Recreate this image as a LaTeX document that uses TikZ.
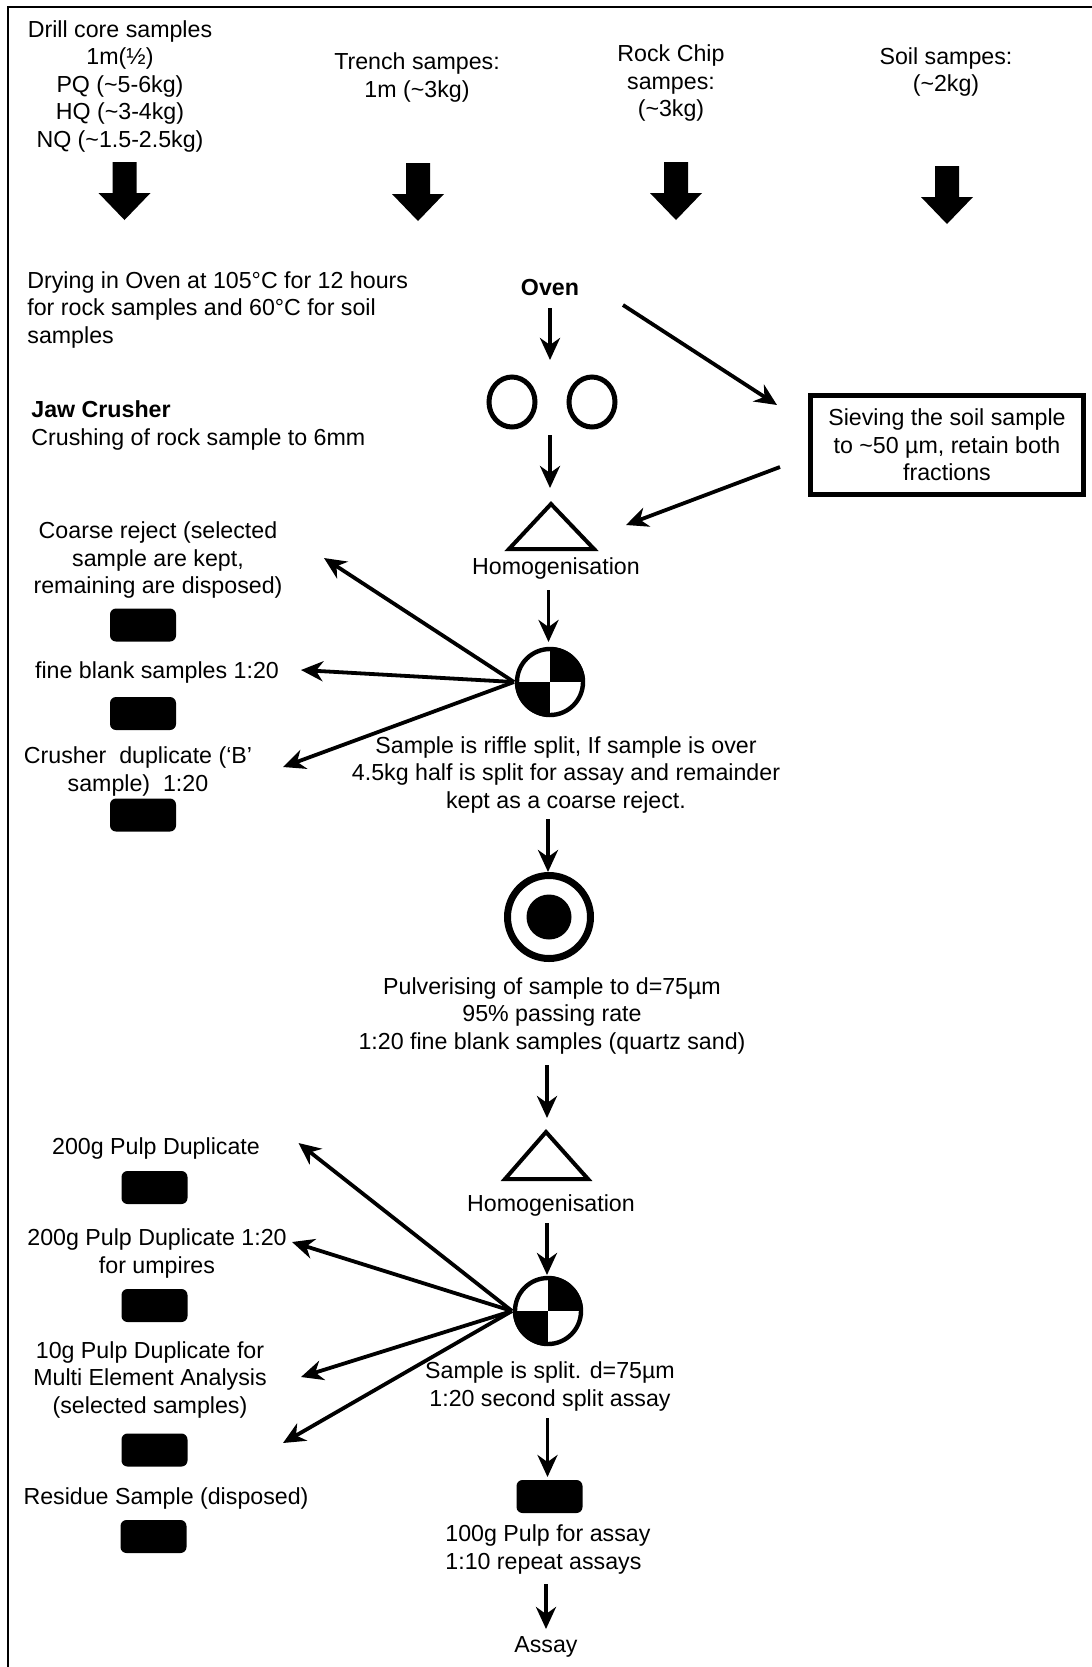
\documentclass[tikz,border=0pt]{standalone}
\usepackage{fontspec}
\setmainfont{Liberation Sans}
\usetikzlibrary{arrows.meta,shapes.geometric}
\begin{document}
\begin{tikzpicture}[x=0.5pt,y=-0.5pt,
  txt/.style={inner sep=0pt, align=center, font=\fontsize{11.6pt}{13.75pt}\selectfont},
  arr/.style={line width=1.9pt, -{Stealth[length=11pt,width=10pt,inset=3.5pt]}},
  blk/.style={fill=black, rounded corners=3pt, minimum width=33pt, minimum height=16.5pt, inner sep=0pt},
  tri/.style={line width=2pt, line join=miter},
  bigarrow/.pic={\fill (-12,0) -- (12,0) -- (12,31) -- (26,31) -- (0,58) -- (-26,31) -- (-12,31) -- cycle;}
]
\useasboundingbox (0,0) rectangle (1092,1667);
\draw[line width=1pt] (8,1667) -- (8,7) -- (1092,7);

% top sample types
\node[txt] (drill) at (120,86) {Drill core samples\\1m(½)\\PQ (\textasciitilde5-6kg)\\HQ (\textasciitilde3-4kg)\\NQ (\textasciitilde1.5-2.5kg)};
\node[txt] (trench) at (417,77.5) {Trench sampes:\\1m (\textasciitilde3kg)};
\node[txt] (rock) at (671,83) {Rock Chip\\sampes:\\(\textasciitilde3kg)};
\node[txt] (soil) at (946,72) {Soil sampes:\\(\textasciitilde2kg)};
\pic at (124.5,162) {bigarrow};
\pic at (418,163) {bigarrow};
\pic at (676,162) {bigarrow};
\pic at (947,166) {bigarrow};

% drying
\node[txt, align=left, anchor=west] (dry) at (27,309.5) {Drying in Oven at 105°C for 12 hours\\for rock samples and 60°C for soil\\samples};
\node[txt] (oven) at (550,288) {\bfseries Oven};
\coordinate (ovenS) at (550,308);
\coordinate (jawN) at (550,360);
\draw[arr] (ovenS) -- (jawN);

% jaw crusher
\node[draw, ellipse, line width=2.5pt, minimum width=23pt, minimum height=25pt, inner sep=0pt] (c1) at (512,402) {};
\node[draw, ellipse, line width=2.5pt, minimum width=23pt, minimum height=25pt, inner sep=0pt] (c2) at (592,402) {};
\node[txt, align=left, anchor=west] (jaw) at (31,425.5) {\textbf{Jaw Crusher}\\Crushing of rock sample to 6mm};
\coordinate (jawS) at (550,435);
\coordinate (t1N) at (550,488);
\draw[arr] (jawS) -- (t1N);

% sieving
\node[draw, line width=2.5pt, minimum width=136.5pt, minimum height=49.5pt, inner sep=0pt, txt] (sieve) at (947,445) {Sieving the soil sample\\to \textasciitilde50 µm, retain both\\fractions};
\coordinate (ovenE) at (623,305);
\coordinate (sieveW1) at (777,405);
\coordinate (sieveW2) at (780,467);
\coordinate (t1E) at (626,525);
\draw[arr] (ovenE) -- (sieveW1);
\draw[arr] (sieveW2) -- (t1E);

% homogenisation 1
\draw[tri] (551,504) coordinate (t1) -- (594,549) -- (509,549) -- cycle;
\node[txt] (hom1) at (556,568) {Homogenisation};
\coordinate (hom1S) at (548.5,590);
\coordinate (sp1N) at (548.5,642);
\draw[arr] (hom1S) -- (sp1N);

% splitter 1
\begin{scope}
\clip (550,682) circle[radius=17.5pt];
\fill (550,682) rectangle (600,630);
\fill (550,682) rectangle (500,734);
\end{scope}
\node[draw, circle, line width=2.2pt, minimum size=33pt, inner sep=0pt] (sp1) at (550,682) {};
\coordinate (sp1W) at (514,682);
\coordinate (l1) at (324,558);
\coordinate (l2) at (301,670);
\coordinate (l3) at (283,767);
\draw[arr] (sp1W) -- (l1);
\draw[arr] (sp1W) -- (l2);
\draw[arr] (sp1W) -- (l3);

\node[txt] (coarse) at (158,560) {Coarse reject (selected\\sample are kept,\\remaining are disposed)};
\node[blk] (b1) at (143,625) {};
\node[txt] (fine) at (157,672) {fine blank samples 1:20};
\node[blk] (b2) at (143,713.5) {};
\node[txt] (crush) at (138,771.5) {Crusher\ \ duplicate (‘B’\\sample)\ \ 1:20};
\node[blk] (b3) at (143,815) {};

\node[txt] (riffle) at (566,774.5) {Sample is riffle split, If sample is over\\4.5kg half is split for assay and remainder\\kept as a coarse reject.};
\coordinate (riffS) at (548,819);
\coordinate (pulN) at (548,872);
\draw[arr] (riffS) -- (pulN);

% pulveriser
\node[draw, circle, line width=3.5pt, minimum size=41.5pt, inner sep=0pt] (pul) at (549,917) {};
\fill (pul.center) circle[radius=11.25pt];
\node[txt] (pultxt) at (552,1015.5) {Pulverising of sample to d=75µm\\95\% passing rate\\1:20 fine blank samples (quartz sand)};
\coordinate (pulS) at (547,1065);
\coordinate (t2N) at (547,1118);
\draw[arr] (pulS) -- (t2N);

% homogenisation 2
\draw[tri] (546,1132) coordinate (t2) -- (588,1179) -- (505,1179) -- cycle;
\node[txt] (hom2) at (551,1205) {Homogenisation};
\coordinate (hom2S) at (547,1223);
\coordinate (sp2N) at (547,1275);
\draw[arr] (hom2S) -- (sp2N);

% splitter 2
\begin{scope}
\clip (548,1311) circle[radius=17.5pt];
\fill (548,1311) rectangle (600,1259);
\fill (548,1311) rectangle (496,1363);
\end{scope}
\node[draw, circle, line width=2.2pt, minimum size=33pt, inner sep=0pt] (sp2) at (548,1311) {};
\coordinate (sp2W) at (512,1311);
\coordinate (m1) at (298.5,1143);
\coordinate (m2) at (292,1242);
\coordinate (m3) at (301,1377);
\coordinate (m4) at (283,1443);
\draw[arr] (sp2W) -- (m1);
\draw[arr] (sp2W) -- (m2);
\draw[arr] (sp2W) -- (m3);
\draw[arr] (sp2W) -- (m4);

\node[txt] (pd1) at (156,1148) {200g Pulp Duplicate};
\node[blk] (b4) at (154.5,1187.5) {};
\node[txt] (pd2) at (157,1253.5) {200g Pulp Duplicate 1:20\\for umpires};
\node[blk] (b5) at (154.5,1305.5) {};
\node[txt] (pd3) at (150,1379.5) {10g Pulp Duplicate for\\Multi Element Analysis\\(selected samples)};
\node[blk] (b6) at (154.5,1450) {};
\node[txt] (res) at (166,1498) {Residue Sample (disposed)};
\node[blk] (b7) at (153.5,1536.5) {};

\node[txt] (split2) at (550,1386.5) {Sample is split. d=75µm\\1:20 second split assay};
\coordinate (split2S) at (547.5,1418);
\coordinate (b8N) at (547.5,1477);
\draw[arr] (split2S) -- (b8N);
\node[blk] (b8) at (549.5,1496.5) {};
\node[txt, align=left, anchor=west] (pulp) at (445,1549.5) {100g Pulp for assay\\1:10 repeat assays};
\coordinate (pulpS) at (546,1584);
\coordinate (assayN) at (546,1629);
\draw[arr] (pulpS) -- (assayN);
\node[txt] (assay) at (546,1647) {Assay};
\end{tikzpicture}
\end{document}
